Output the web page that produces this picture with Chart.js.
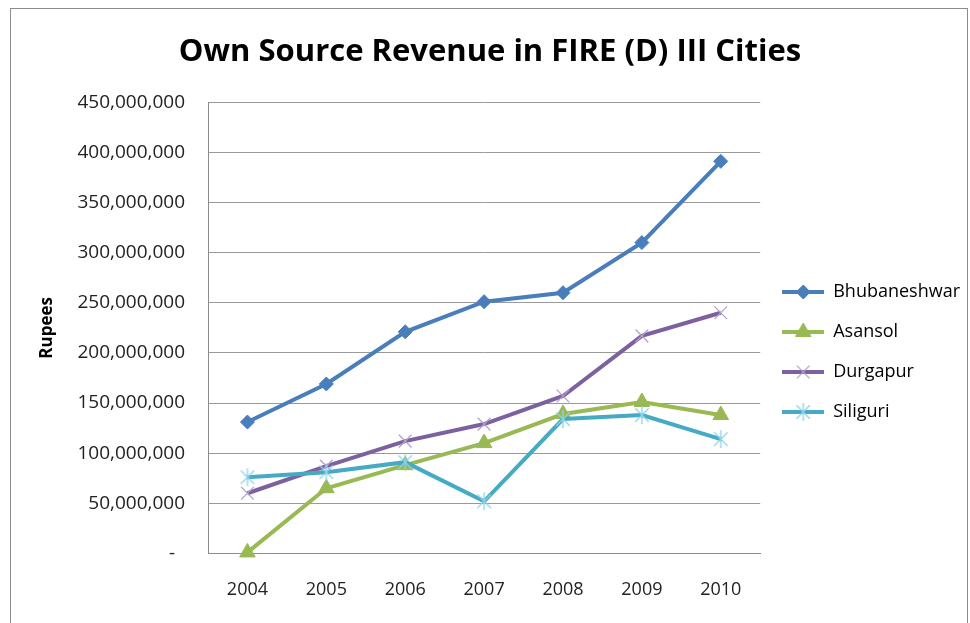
<!DOCTYPE html>
<html>
<head>
<meta charset="utf-8">
<title>Own Source Revenue</title>
<script src="https://cdn.jsdelivr.net/npm/chart.js@4.4.0/dist/chart.umd.min.js"></script>
<style>
  html, body { margin: 0; padding: 0; background: #fff; }
  #wrap { position: relative; width: 970px; height: 623px; overflow: hidden; }
  #frame { position: absolute; left: 10px; top: 8px; width: 958px; height: 640px; border: 1px solid #8c8c8c; box-sizing: border-box; }
  #myChart { position: absolute; left: 0; top: 0; }
</style>
</head>
<body>
<div id="wrap">
  <div id="frame"></div>
  <canvas id="myChart" width="970" height="623"></canvas>
</div>
<script>
// data (rupees)
var years = ['2004', '2005', '2006', '2007', '2008', '2009', '2010'];
var bhubaneshwar = [131000000, 169000000, 221000000, 251000000, 260000000, 310000000, 391000000];
var asansol = [1000000, 65000000, 88000000, 110000000, 139000000, 151000000, 138000000];
var durgapur = [60000000, 87000000, 112000000, 129000000, 157000000, 217000000, 240000000];
var siliguri = [76000000, 81000000, 91000000, 52000000, 134000000, 138000000, 114000000];
var seriesNames = ['Bhubaneshwar', 'Asansol', 'Durgapur', 'Siliguri'];

var FONT = "'Open Sans', sans-serif";

// excel style star marker: x plus vertical stroke
function starMarker(color, r) {
  var s = r * 2 + 2;
  var c = document.createElement('canvas');
  c.width = s; c.height = s;
  var ctx = c.getContext('2d');
  var m = s / 2;
  ctx.strokeStyle = color;
  ctx.lineWidth = 1.3;
  ctx.beginPath();
  ctx.moveTo(m, m - r); ctx.lineTo(m, m + r);
  var d = r * 0.75;
  ctx.moveTo(m - d, m - d); ctx.lineTo(m + d, m + d);
  ctx.moveTo(m + d, m - d); ctx.lineTo(m - d, m + d);
  ctx.stroke();
  return c;
}

var siliguriStar = starMarker('#8fd3e6', 9);

// legend sample: short line with the marker in the middle
function legendIcon(ds) {
  var c = document.createElement('canvas');
  c.width = 42; c.height = 20;
  var ctx = c.getContext('2d');
  ctx.strokeStyle = ds.borderColor;
  ctx.lineWidth = ds.borderWidth;
  ctx.beginPath();
  ctx.moveTo(0, 10); ctx.lineTo(42, 10);
  ctx.stroke();
  if (typeof ds.pointStyle === 'object') {
    ctx.drawImage(ds.pointStyle, 21 - ds.pointStyle.width / 2, 10 - ds.pointStyle.height / 2);
  } else {
    ctx.fillStyle = ds.pointBackgroundColor;
    ctx.strokeStyle = ds.pointBorderColor;
    ctx.lineWidth = ds.pointBorderWidth;
    Chart.helpers.drawPoint(ctx, { pointStyle: ds.pointStyle, radius: ds.pointRadius, borderWidth: ds.pointBorderWidth, rotation: 0 }, 21, 10);
  }
  return c;
}

var datasets = [
  {
    label: seriesNames[0], data: bhubaneshwar, order: 4,
    borderColor: '#4a7ebb', borderWidth: 4,
    pointStyle: 'rectRot', pointRadius: 7, pointBorderWidth: 1,
    pointBackgroundColor: '#4a7ebb', pointBorderColor: '#4a7ebb'
  },
  {
    label: seriesNames[1], data: asansol, order: 3,
    borderColor: '#98b954', borderWidth: 4,
    pointStyle: 'triangle', pointRadius: 9, pointBorderWidth: 1,
    pointBackgroundColor: '#98b954', pointBorderColor: '#98b954'
  },
  {
    label: seriesNames[2], data: durgapur, order: 2,
    borderColor: '#7d60a0', borderWidth: 4,
    pointStyle: 'crossRot', pointRadius: 9, pointBorderWidth: 1.3,
    pointBackgroundColor: '#b3a2c7', pointBorderColor: '#b3a2c7'
  },
  {
    label: seriesNames[3], data: siliguri, order: 1,
    borderColor: '#46aac5', borderWidth: 4,
    pointStyle: siliguriStar, pointRadius: 9, pointBorderWidth: 1.3,
    pointBackgroundColor: '#8fd3e6', pointBorderColor: '#8fd3e6'
  }
];
datasets.forEach(function(ds) { ds.tension = 0; ds.clip = false; ds.fill = false; ds.pointHoverRadius = ds.pointRadius; });

var icons = datasets.map(legendIcon);

var ctx = document.getElementById('myChart').getContext('2d');
var chart = new Chart(ctx, {
  type: 'line',
  data: { labels: years, datasets: datasets },
  options: {
    responsive: false,
    animation: false,
    devicePixelRatio: 1,
    layout: { padding: { left: 10, top: 8, right: 0, bottom: -4 } },
    plugins: {
      tooltip: { enabled: false },
      title: {
        display: true,
        text: 'Own Source Revenue in FIRE (D) III Cities',
        color: '#000',
        font: { family: FONT, size: 31, weight: 'bold', lineHeight: 1.2 },
        padding: { top: 26, bottom: 31 }
      },
      legend: {
        position: 'right',
        fullSize: false,
        title: { display: true, text: ' ', font: { size: 12, lineHeight: 1.2 }, padding: 17 },
        labels: {
          usePointStyle: true,
          pointStyleWidth: 42,
          boxHeight: 18,
          padding: 22,
          color: '#000',
          font: { family: FONT, size: 18 },
          generateLabels: function(chart) {
            return chart.data.datasets.map(function(ds, i) {
              return { text: ds.label, pointStyle: icons[i], datasetIndex: i, hidden: false,
                       fillStyle: 'transparent', strokeStyle: 'transparent', lineWidth: 0, fontColor: '#000' };
            });
          }
        }
      }
    },
    scales: {
      x: {
        offset: true,
        grid: { display: false, drawTicks: false },
        border: { display: true, color: '#8c8c8c', width: 1 },
        ticks: { color: '#222', padding: 26, font: { family: FONT, size: 18 } }
      },
      y: {
        min: 0, max: 450000000,
        grid: { color: '#9a9a9a', drawTicks: false },
        border: { display: true, color: '#8c8c8c', width: 1 },
        title: {
          display: true, text: 'Rupees', color: '#000',
          font: { family: FONT, size: 17, weight: 'bold', lineHeight: 1.2 },
          padding: { top: 27, bottom: -3 }
        },
        ticks: {
          stepSize: 50000000,
          color: '#222',
          padding: 23,
          font: { family: FONT, size: 19 },
          callback: function(v) { return v === 0 ? '-  ' : v.toLocaleString('en-US'); }
        }
      }
    }
  }
});
</script>
</body>
</html>
